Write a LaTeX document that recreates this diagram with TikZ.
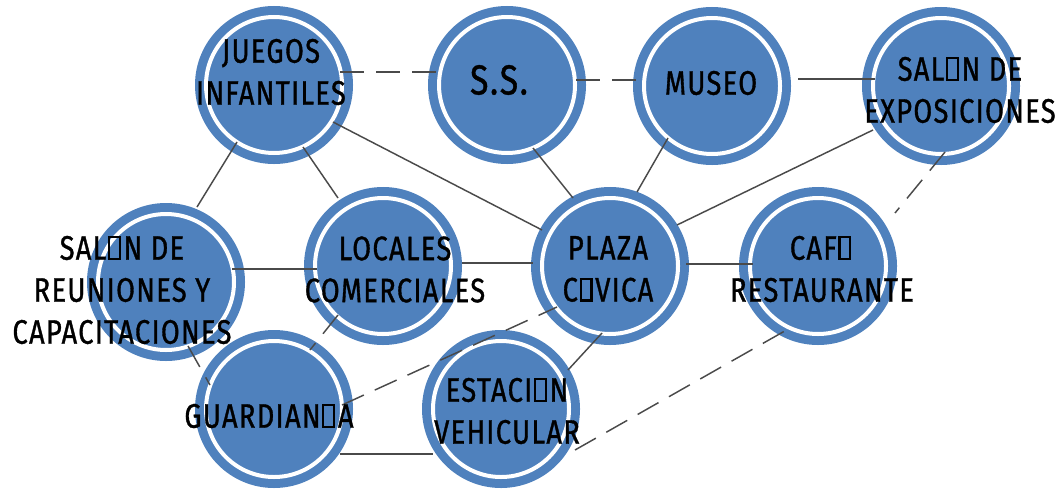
\documentclass[tikz,border=0pt]{standalone}
\usepackage{fontspec}
\setmainfont{Fira Sans}[FakeStretch=0.8, LetterSpace=4, FakeBold=1]
\definecolor{nodeblue}{HTML}{4F81BD}
\definecolor{linegray}{HTML}{4A4A4A}
\newcommand\gx{\kern0.05em{\fboxsep=0pt\fboxrule=1.6pt\raisebox{1.6pt}{\fbox{\rule{0pt}{14.4pt}\kern6.5pt}}}\kern0.08em}
\begin{document}
\begin{tikzpicture}[x=0.75pt,y=-0.75pt,
  ring/.style={circle, inner sep=0pt, outer sep=0pt, minimum size=102pt,
    fill=nodeblue, draw=white, line width=3pt,
    preaction={draw=nodeblue, line width=16.5pt}},
  lbl/.style={inner sep=0pt, align=center, text=black,
    font=\fontsize{25.5}{31.5}\selectfont},
  link/.style={draw=linegray, line width=1.1pt},
  dlink/.style={link, dash pattern=on 18pt off 9pt}]
\useasboundingbox (0,0) rectangle (1062,489);
% circles
\node[ring] (J) at (274,85) {};
\node[ring] (S) at (507,85) {};
\node[ring] (M) at (712,86) {};
\node[ring] (E) at (941,86) {};
\node[ring] (R) at (166,282) {};
\node[ring] (L) at (383,266) {};
\node[ring] (P) at (610,266) {};
\node[ring] (C) at (818,266) {};
\node[ring] (G) at (274,409) {};
\node[ring] (V) at (501,409) {};
% connectors
\draw[dlink] ([shift={(66,-13)}]J.center) -- ([shift={(-65,-13)}]S.center);
\draw[dlink] ([shift={(69,-5)}]S.center) -- ([shift={(-65,-6)}]M.center);
\draw[link] ([shift={(86,-7)}]M.center) -- ([shift={(-66,-7)}]E.center);
\draw[link] ([shift={(-37,57)}]J.center) -- ([shift={(31,-75)}]R.center);
\draw[link] ([shift={(29,62)}]J.center) -- ([shift={(-45,-68)}]L.center);
\draw[link] ([shift={(59,37)}]J.center) -- ([shift={(-68,-36)}]P.center);
\draw[link] ([shift={(26,63)}]S.center) -- ([shift={(-37,-68)}]P.center);
\draw[link] ([shift={(-44,52)}]M.center) -- ([shift={(27,-74)}]P.center);
\draw[link] ([shift={(-68,44)}]E.center) -- ([shift={(67,-41)}]P.center);
\draw[dlink] ([shift={(4,66)}]E.center) -- ([shift={(77,-53)}]C.center);
\draw[link] ([shift={(66,-13)}]R.center) -- ([shift={(-66,3)}]L.center);
\draw[link] ([shift={(79,-3)}]L.center) -- ([shift={(-77,-3)}]P.center);
\draw[link] ([shift={(76,-2)}]P.center) -- ([shift={(-65,-2)}]C.center);
\draw[dlink] ([shift={(22,64)}]R.center) -- ([shift={(-64,-24)}]G.center);
\draw[dlink] ([shift={(-45,49)}]L.center) -- ([shift={(36,-59)}]G.center);
\draw[dlink] ([shift={(68,-4)}]G.center) -- ([shift={(-53,41)}]P.center);
\draw[link] ([shift={(-8,67)}]P.center) -- ([shift={(67,-39)}]V.center);
\draw[link] ([shift={(66,45)}]G.center) -- ([shift={(-68,45)}]V.center);
\draw[dlink] ([shift={(74,41)}]V.center) -- ([shift={(-28,62)}]C.center);
% labels
\node[lbl] (tJ) at (271,72) {JUEGOS\\INFANTILES};
\node[lbl, font=\fontsize{31.5}{36}\selectfont] (tS) at (499,80) {S.S.};
\node[lbl] (tM) at (711,83) {MUSEO};
\node[lbl] (tE) at (960,90) {SAL\gx N DE\\EXPOSICIONES};
\node[lbl] (tR) at (122,290) {SAL\gx N DE\\REUNIONES Y\\CAPACITACIONES};
\node[lbl] (tL) at (395,269.5) {LOCALES\\COMERCIALES};
\node[lbl] (tP) at (608,269) {PLAZA\\C\gx VICA};
\node[lbl] (tC) at (822,269) {CAF\gx\\RESTAURANTE};
\node[lbl] (tG) at (269,416) {GUARDIAN\gx A};
\node[lbl] (tV) at (507,411) {ESTACI\gx N\\VEHICULAR};
\end{tikzpicture}
\end{document}
